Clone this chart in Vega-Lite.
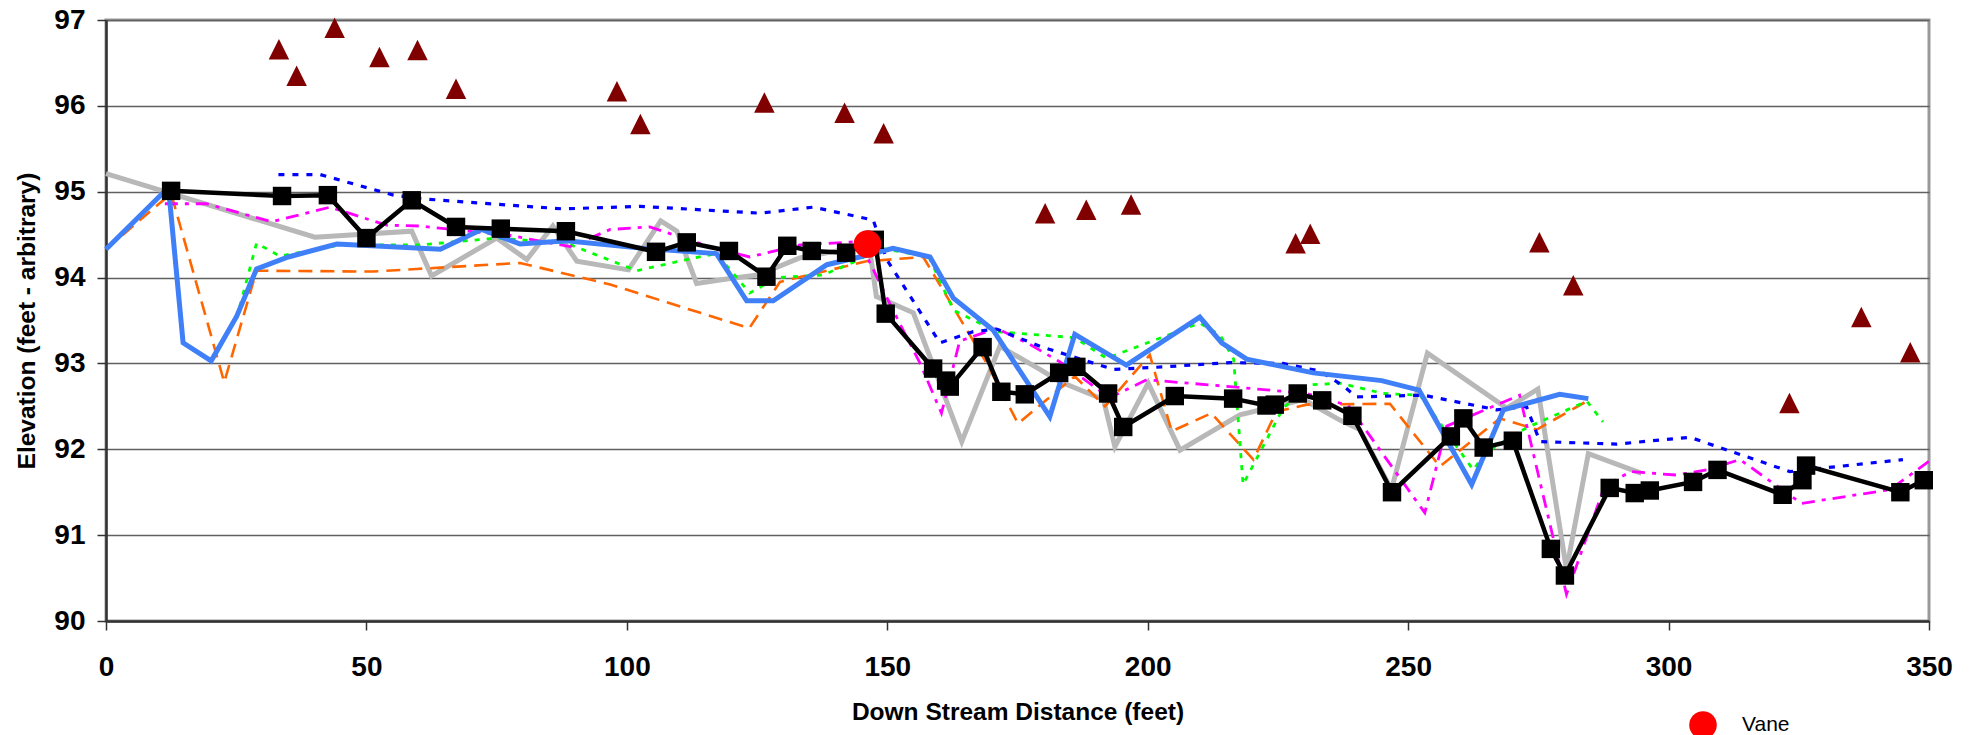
{
  "$schema": "https://vega.github.io/schema/vega-lite/v6.json",
  "width": 1823,
  "height": 601,
  "autosize": {"type": "none"},
  "padding": {"left": 106, "top": 20, "right": 47, "bottom": 114},
  "background": "white",
  "config": {
    "font": "Liberation Sans",
    "view": {"stroke": "#999999", "strokeWidth": 3}
  },
  "datasets": {
    "gray": [
      {"x":0,"y":95.21},{"x":40.1,"y":94.47},{"x":58.7,"y":94.54},{"x":62.5,"y":94.02},{"x":75.0,"y":94.46},
      {"x":80.8,"y":94.21},{"x":85.8,"y":94.60},{"x":90.4,"y":94.19},{"x":100.3,"y":94.09},{"x":106.5,"y":94.66},
      {"x":109.6,"y":94.54},{"x":113.4,"y":93.93},{"x":119.8,"y":93.99},{"x":125.2,"y":94.03},{"x":133.2,"y":94.23},
      {"x":146.5,"y":94.38},{"x":147.9,"y":93.78},{"x":155.0,"y":93.59},{"x":164.3,"y":92.09},{"x":171.6,"y":93.20},
      {"x":179.3,"y":92.93},{"x":183.1,"y":92.79},{"x":191.5,"y":92.58},{"x":193.7,"y":92.03},{"x":200.1,"y":92.77},
      {"x":206.2,"y":91.99},{"x":217.7,"y":92.40},{"x":229.9,"y":92.58},{"x":236.9,"y":92.34},{"x":240.7,"y":92.23},
      {"x":246.8,"y":91.53},{"x":253.7,"y":93.12},{"x":268.9,"y":92.48},{"x":274.9,"y":92.70},{"x":280.4,"y":90.60},
      {"x":284.6,"y":91.95},{"x":294.8,"y":91.72}
    ],
    "orange": [
      {"x":0,"y":94.33},{"x":12.5,"y":94.98},{"x":22.7,"y":92.78},{"x":28.9,"y":94.08},{"x":51.3,"y":94.07},
      {"x":59.6,"y":94.10},{"x":79.5,"y":94.17},{"x":96.8,"y":93.92},{"x":123.5,"y":93.41},{"x":129.4,"y":93.95},
      {"x":146.0,"y":94.19},{"x":156.9,"y":94.24},{"x":169.1,"y":93.00},{"x":175.1,"y":92.30},{"x":186.0,"y":92.85},
      {"x":191.8,"y":92.50},{"x":200.4,"y":93.10},{"x":204.6,"y":92.21},{"x":212.2,"y":92.42},{"x":220.3,"y":91.88},
      {"x":224.7,"y":92.44},{"x":230.5,"y":92.52},{"x":246.5,"y":92.53},{"x":256.1,"y":91.80},{"x":267.6,"y":92.36},
      {"x":274.7,"y":92.23},{"x":284.3,"y":92.56}
    ],
    "green": [
      {"x":25.1,"y":93.53},{"x":28.9,"y":94.40},{"x":33.4,"y":94.25},{"x":44.9,"y":94.38},{"x":60.3,"y":94.38},
      {"x":75.0,"y":94.46},{"x":88.4,"y":94.40},{"x":101.9,"y":94.08},{"x":111.5,"y":94.21},{"x":117.2,"y":94.28},
      {"x":123.6,"y":93.82},{"x":128.8,"y":94.00},{"x":137.7,"y":94.03},{"x":144.7,"y":94.21},{"x":148.0,"y":94.35},
      {"x":158.0,"y":94.24},{"x":162.7,"y":93.62},{"x":171.0,"y":93.37},{"x":186.0,"y":93.30},{"x":192.1,"y":93.06},
      {"x":210.0,"y":93.47},{"x":213.9,"y":93.33},{"x":216.5,"y":93.05},{"x":218.3,"y":91.59},{"x":226.0,"y":92.48},
      {"x":231.1,"y":92.75},{"x":236.9,"y":92.77},{"x":245.2,"y":92.65},{"x":252.3,"y":92.63},{"x":262.5,"y":91.76},
      {"x":264.9,"y":91.96},{"x":272.7,"y":92.25},{"x":284.3,"y":92.56},{"x":287.4,"y":92.32}
    ],
    "magenta": [
      {"x":11.3,"y":94.86},{"x":19.3,"y":94.86},{"x":31.8,"y":94.65},{"x":43.0,"y":94.82},{"x":53.9,"y":94.61},
      {"x":60.3,"y":94.60},{"x":77.6,"y":94.49},{"x":89.1,"y":94.36},{"x":96.8,"y":94.56},{"x":104.4,"y":94.59},
      {"x":115.9,"y":94.36},{"x":123.6,"y":94.24},{"x":133.2,"y":94.38},{"x":144.7,"y":94.42},{"x":151.1,"y":93.62},
      {"x":156.3,"y":93.00},{"x":160.4,"y":92.42},{"x":163.9,"y":93.26},{"x":171.0,"y":93.41},{"x":177.4,"y":93.22},
      {"x":183.1,"y":93.02},{"x":192.7,"y":92.60},{"x":199.8,"y":92.81},{"x":215.8,"y":92.73},{"x":230.5,"y":92.65},
      {"x":238.5,"y":92.51},{"x":253.2,"y":91.26},{"x":257.4,"y":92.27},{"x":271.4,"y":92.63},{"x":280.4,"y":90.31},
      {"x":287.7,"y":91.57},{"x":292.7,"y":91.74},{"x":301.5,"y":91.70},{"x":307.3,"y":91.76},{"x":313.7,"y":91.88},
      {"x":325.5,"y":91.37},{"x":342.5,"y":91.53},{"x":350.0,"y":91.86}
    ],
    "dblue": [
      {"x":33.1,"y":95.20},{"x":41.1,"y":95.20},{"x":55.2,"y":94.96},{"x":60.3,"y":94.92},{"x":71.2,"y":94.87},
      {"x":87.8,"y":94.80},{"x":102.5,"y":94.83},{"x":119.8,"y":94.77},{"x":125.6,"y":94.75},{"x":135.8,"y":94.82},
      {"x":147.3,"y":94.67},{"x":149.9,"y":94.21},{"x":160.1,"y":93.24},{"x":166.5,"y":93.37},{"x":171.0,"y":93.40},
      {"x":179.3,"y":93.20},{"x":193.4,"y":92.93},{"x":203.0,"y":92.96},{"x":215.8,"y":93.01},{"x":226.0,"y":93.00},
      {"x":233.1,"y":92.91},{"x":237.5,"y":92.74},{"x":240.1,"y":92.61},{"x":252.9,"y":92.63},{"x":267.0,"y":92.46},
      {"x":272.7,"y":92.50},{"x":275.3,"y":92.09},{"x":290.0,"y":92.06},{"x":304.1,"y":92.14},{"x":313.7,"y":91.94},
      {"x":323.3,"y":91.74},{"x":345.0,"y":91.88}
    ],
    "blue": [
      {"x":0,"y":94.33},{"x":12.0,"y":95.05},{"x":14.8,"y":93.24},{"x":20.2,"y":93.03},{"x":25.1,"y":93.55},
      {"x":28.9,"y":94.10},{"x":35.0,"y":94.24},{"x":44.3,"y":94.39},{"x":64.2,"y":94.33},{"x":72.1,"y":94.56},
      {"x":79.5,"y":94.39},{"x":88.4,"y":94.43},{"x":103.1,"y":94.34},{"x":117.2,"y":94.28},{"x":123.0,"y":93.73},
      {"x":128.1,"y":93.73},{"x":138.4,"y":94.15},{"x":144.7,"y":94.24},{"x":151.1,"y":94.34},{"x":158.2,"y":94.24},
      {"x":162.7,"y":93.76},{"x":170.3,"y":93.39},{"x":181.2,"y":92.38},{"x":186.0,"y":93.34},{"x":195.9,"y":92.98},
      {"x":210.0,"y":93.54},{"x":214.2,"y":93.24},{"x":219.0,"y":93.05},{"x":231.8,"y":92.89},{"x":244.9,"y":92.80},
      {"x":252.1,"y":92.69},{"x":262.2,"y":91.59},{"x":268.3,"y":92.46},{"x":279.1,"y":92.64},{"x":284.6,"y":92.59}
    ],
    "black": [
      {"x":12.5,"y":95.01},{"x":33.8,"y":94.95},{"x":42.6,"y":94.96},{"x":50.0,"y":94.46},{"x":58.7,"y":94.90},
      {"x":67.2,"y":94.59},{"x":75.8,"y":94.57},{"x":88.3,"y":94.54},{"x":105.6,"y":94.30},{"x":111.5,"y":94.41},
      {"x":119.6,"y":94.31},{"x":126.8,"y":94.01},{"x":130.8,"y":94.37},{"x":135.5,"y":94.31},{"x":142.1,"y":94.29},
      {"x":147.6,"y":94.44},{"x":149.7,"y":93.58},{"x":158.8,"y":92.94},{"x":161.3,"y":92.80},{"x":162.0,"y":92.73},
      {"x":168.3,"y":93.19},{"x":171.9,"y":92.67},{"x":176.4,"y":92.64},{"x":183.0,"y":92.89},{"x":186.3,"y":92.96},
      {"x":192.4,"y":92.65},{"x":195.3,"y":92.26},{"x":205.2,"y":92.62},{"x":216.4,"y":92.59},{"x":222.8,"y":92.51},
      {"x":224.4,"y":92.52},{"x":228.8,"y":92.65},{"x":233.5,"y":92.57},{"x":239.3,"y":92.39},{"x":246.9,"y":91.50},
      {"x":258.2,"y":92.15},{"x":260.6,"y":92.36},{"x":264.5,"y":92.02},{"x":270.1,"y":92.10},{"x":277.4,"y":90.84},
      {"x":280.1,"y":90.53},{"x":288.7,"y":91.55},{"x":293.5,"y":91.49},{"x":296.4,"y":91.52},{"x":304.7,"y":91.62},
      {"x":309.4,"y":91.76},{"x":321.9,"y":91.47},{"x":325.7,"y":91.64},{"x":326.4,"y":91.81},{"x":344.5,"y":91.50},
      {"x":349.0,"y":91.64}
    ],
    "tri": [
      {"x":33.2,"y":96.66},{"x":36.6,"y":96.35},{"x":43.9,"y":96.91},{"x":52.5,"y":96.57},{"x":59.8,"y":96.65},
      {"x":67.2,"y":96.20},{"x":98.1,"y":96.17},{"x":102.6,"y":95.79},{"x":126.4,"y":96.04},{"x":141.8,"y":95.92},
      {"x":149.3,"y":95.68},{"x":180.3,"y":94.75},{"x":188.2,"y":94.79},{"x":196.8,"y":94.85},{"x":228.4,"y":94.40},
      {"x":231.2,"y":94.51},{"x":275.2,"y":94.41},{"x":281.7,"y":93.91},{"x":323.2,"y":92.54},{"x":337.0,"y":93.54},
      {"x":346.4,"y":93.13}
    ],
    "vane": [
      {"x":146.2,"y":94.39,"s":"Vane"}
    ]
  },
  "encoding": {
    "x": {
      "field": "x", "type": "quantitative",
      "scale": {"domain": [0, 350], "nice": false, "zero": false},
      "title": "Down Stream Distance (feet)",
      "axis": {
        "values": [0, 50, 100, 150, 200, 250, 300, 350],
        "grid": false,
        "domainColor": "#333333", "domainWidth": 2.5,
        "tickColor": "#333333", "tickWidth": 1.5, "tickSize": 9,
        "labelFont": "Liberation Sans", "labelFontSize": 28, "labelFontWeight": "bold", "labelColor": "#000000",
        "labelPadding": 23, "labelFlush": false,
        "titleFont": "Liberation Sans", "titleFontSize": 24.5, "titleFontWeight": "bold", "titleColor": "#000000",
        "titleY": 98, "titleBaseline": "alphabetic"
      }
    },
    "y": {
      "field": "y", "type": "quantitative",
      "scale": {"domain": [90, 97], "nice": false, "zero": false},
      "title": "Elevation (feet - arbitrary)",
      "axis": {
        "values": [90, 91, 92, 93, 94, 95, 96, 97],
        "grid": true, "gridColor": "#606060", "gridWidth": 1.5,
        "domainColor": "#333333", "domainWidth": 2.5,
        "tickColor": "#333333", "tickWidth": 1.5, "tickSize": 9,
        "labelFont": "Liberation Sans", "labelFontSize": 28, "labelFontWeight": "bold", "labelColor": "#000000",
        "labelPadding": 12, "labelFlush": false,
        "titleFont": "Liberation Sans", "titleFontSize": 24.5, "titleFontWeight": "bold", "titleColor": "#000000",
        "titleX": -72, "titleY": 300.5, "titleAngle": 270, "titleAlign": "center", "titleBaseline": "alphabetic"
      }
    }
  },
  "layer": [
    {"data": {"name": "gray"}, "mark": {"type": "line", "color": "#b8b8b8", "strokeWidth": 5, "strokeJoin": "miter"}},
    {"data": {"name": "orange"}, "mark": {"type": "line", "color": "#ff6600", "strokeWidth": 2.6, "strokeDash": [14, 8]}},
    {"data": {"name": "green"}, "mark": {"type": "line", "color": "#00ff00", "strokeWidth": 2.8, "strokeDash": [5, 7]}},
    {"data": {"name": "magenta"}, "mark": {"type": "line", "color": "#ff00ff", "strokeWidth": 2.8, "strokeDash": [13, 7, 4, 7]}},
    {"data": {"name": "dblue"}, "mark": {"type": "line", "color": "#0000ff", "strokeWidth": 3.2, "strokeDash": [6, 8]}},
    {"data": {"name": "blue"}, "mark": {"type": "line", "color": "#3f7ff7", "strokeWidth": 5}},
    {"data": {"name": "black"}, "mark": {"type": "line", "color": "#000000", "strokeWidth": 4.5}},
    {"data": {"name": "black"}, "mark": {"type": "point", "shape": "square", "size": 340, "filled": true, "color": "#000000", "opacity": 1}},
    {"data": {"name": "tri"}, "mark": {"type": "point", "shape": "M0,-1L1,1L-1,1Z", "size": 420, "filled": true, "color": "#800000", "opacity": 1}},
    {
      "data": {"name": "vane"},
      "mark": {"type": "point", "shape": "circle", "size": 760, "filled": true, "opacity": 1},
      "encoding": {
        "color": {
          "field": "s", "type": "nominal",
          "scale": {"domain": ["Vane"], "range": ["#ff0000"]},
          "legend": {
            "orient": "none", "legendX": 1583, "legendY": 691, "title": null,
            "padding": 0, "symbolType": "circle", "symbolSize": 760,
            "symbolFillColor": "#ff0000", "symbolStrokeWidth": 0, "symbolOpacity": 1,
            "labelFont": "Liberation Sans", "labelFontSize": 21, "labelColor": "#000000", "labelOffset": 25
          }
        }
      }
    }
  ]
}
